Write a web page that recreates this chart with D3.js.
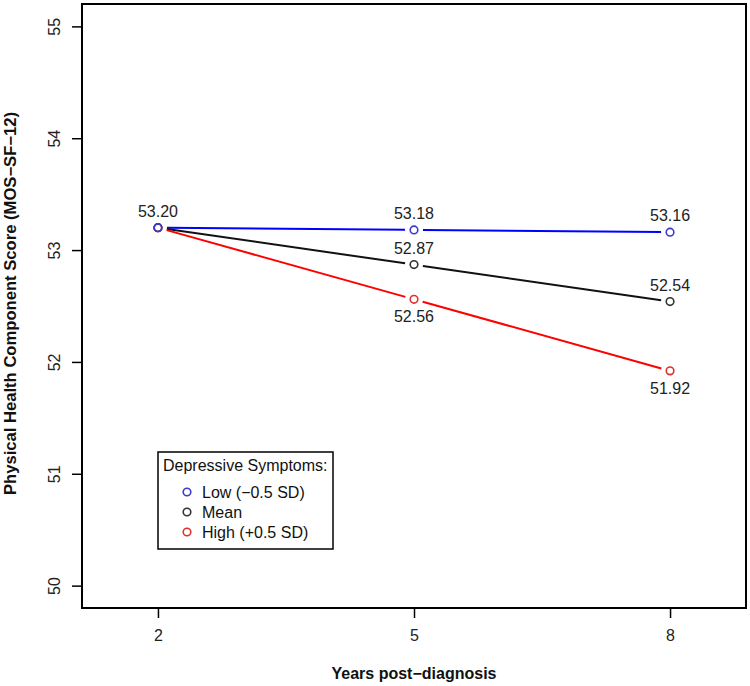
<!DOCTYPE html>
<html>
<head>
<meta charset="utf-8">
<script src="https://cdn.jsdelivr.net/npm/d3@7"></script>
<style>
  html, body { margin: 0; padding: 0; background: #fff; }
  svg { display: block; font-family: "Liberation Sans", Arial, sans-serif; }
</style>
</head>
<body>
<svg id="chart" width="750" height="686"></svg>
<script>
const years = [2, 5, 8];
const yTicks = [50, 51, 52, 53, 54, 55];
const lowValues = [53.20, 53.18, 53.16];
const meanValues = [53.20, 52.87, 52.54];
const highValues = [53.20, 52.56, 51.92];
const seriesNames = ["Low (\u22120.5 SD)", "Mean", "High (+0.5 SD)"];
const legendTitle = "Depressive Symptoms:";
const xTitle = "Years post\u2212diagnosis";
const yTitle = "Physical Health Component Score (MOS\u2212SF\u221212)";
// label placement: 1 = above, -1 = below, 0 = none (per point)
const lowLabelPos = [1, 1, 1];
const meanLabelPos = [0, 1, 1];
const highLabelPos = [0, -1, -1];

const series = [
  { name: seriesNames[0], values: lowValues, pos: lowLabelPos, line: "#0000ff", point: "#3a3ad0" },
  { name: seriesNames[1], values: meanValues, pos: meanLabelPos, line: "#111111", point: "#333333" },
  { name: seriesNames[2], values: highValues, pos: highLabelPos, line: "#ff0000", point: "#e03030" }
];

const svg = d3.select("#chart");
const mLeft = 82, mRight = 746, mTop = 4, mBottom = 608;

const x = d3.scaleLinear().domain([1.11, 8.89]).range([mLeft, mRight]);
const y = d3.scaleLinear().domain([49.8, 55.2]).range([mBottom, mTop]);

// lines with gaps around points (R type="b")
const gap = 9;
series.forEach(s => {
  for (let i = 0; i < years.length - 1; i++) {
    const x1 = x(years[i]), y1 = y(s.values[i]);
    const x2 = x(years[i + 1]), y2 = y(s.values[i + 1]);
    const len = Math.hypot(x2 - x1, y2 - y1);
    const ux = (x2 - x1) / len, uy = (y2 - y1) / len;
    svg.append("line")
      .attr("x1", x1 + ux * gap).attr("y1", y1 + uy * gap)
      .attr("x2", x2 - ux * gap).attr("y2", y2 - uy * gap)
      .attr("stroke", s.line).attr("stroke-width", 2);
  }
});

[...series].reverse().forEach(s => {
  svg.selectAll(null).data(years).enter().append("circle")
    .attr("cx", d => x(d))
    .attr("cy", (d, i) => y(s.values[i]))
    .attr("r", 3.8)
    .attr("fill", "none")
    .attr("stroke", s.point)
    .attr("stroke-width", 1.6);
});

// value labels
series.forEach(s => {
  years.forEach((yr, i) => {
    if (s.pos[i] === 0) return;
    svg.append("text")
      .attr("x", x(yr))
      .attr("y", y(s.values[i]) + (s.pos[i] > 0 ? -11 : 23))
      .attr("text-anchor", "middle")
      .attr("font-size", 16)
      .attr("fill", "#222")
      .text(s.values[i].toFixed(2));
  });
});

// box
svg.append("rect")
  .attr("x", mLeft).attr("y", mTop)
  .attr("width", mRight - mLeft).attr("height", mBottom - mTop)
  .attr("fill", "none").attr("stroke", "#000").attr("stroke-width", 2);

// x axis
const xAxis = d3.axisBottom(x).tickValues(years).tickSize(10).tickPadding(12).tickFormat(d3.format("d"));
const gx = svg.append("g").attr("transform", `translate(0,${mBottom})`).call(xAxis);
gx.select(".domain").remove();
gx.selectAll(".tick line").attr("stroke", "#000").attr("stroke-width", 1.5);
gx.selectAll(".tick text").attr("font-size", 16).attr("fill", "#222")
  .attr("font-family", "Liberation Sans, Arial, sans-serif");

// y axis
const yAxis = d3.axisLeft(y).tickValues(yTicks).tickSize(10).tickFormat(d3.format("d"));
const gy = svg.append("g").attr("transform", `translate(${mLeft},0)`).call(yAxis);
gy.select(".domain").remove();
gy.selectAll(".tick line").attr("stroke", "#000").attr("stroke-width", 1.5);
gy.selectAll(".tick text")
  .attr("font-size", 16).attr("fill", "#222")
  .attr("font-family", "Liberation Sans, Arial, sans-serif")
  .attr("x", null).attr("dy", null)
  .attr("transform", "translate(-22,0) rotate(-90)")
  .attr("text-anchor", "middle");

// axis titles
svg.append("text")
  .attr("x", 414).attr("y", 679)
  .attr("text-anchor", "middle")
  .attr("font-size", 16).attr("font-weight", "bold").attr("fill", "#111")
  .attr("textLength", 165).attr("lengthAdjust", "spacingAndGlyphs")
  .text(xTitle);

svg.append("text")
  .attr("transform", "translate(16,303.5) rotate(-90)")
  .attr("text-anchor", "middle")
  .attr("font-size", 16).attr("font-weight", "bold").attr("fill", "#111")
  .attr("textLength", 383).attr("lengthAdjust", "spacingAndGlyphs")
  .text(yTitle);

// legend
const lg = svg.append("g");
lg.append("rect")
  .attr("x", 158).attr("y", 452).attr("width", 175).attr("height", 97)
  .attr("fill", "#fff").attr("stroke", "#000").attr("stroke-width", 1.5);
lg.append("text")
  .attr("x", 163).attr("y", 471)
  .attr("font-size", 16).attr("fill", "#111")
  .text(legendTitle);
series.forEach((s, i) => {
  const cy = 492 + i * 20;
  lg.append("circle").attr("cx", 187).attr("cy", cy).attr("r", 3.8)
    .attr("fill", "none").attr("stroke", s.point).attr("stroke-width", 1.6);
  lg.append("text").attr("x", 202).attr("y", cy + 6)
    .attr("font-size", 16).attr("fill", "#111").text(s.name);
});
</script>
</body>
</html>
